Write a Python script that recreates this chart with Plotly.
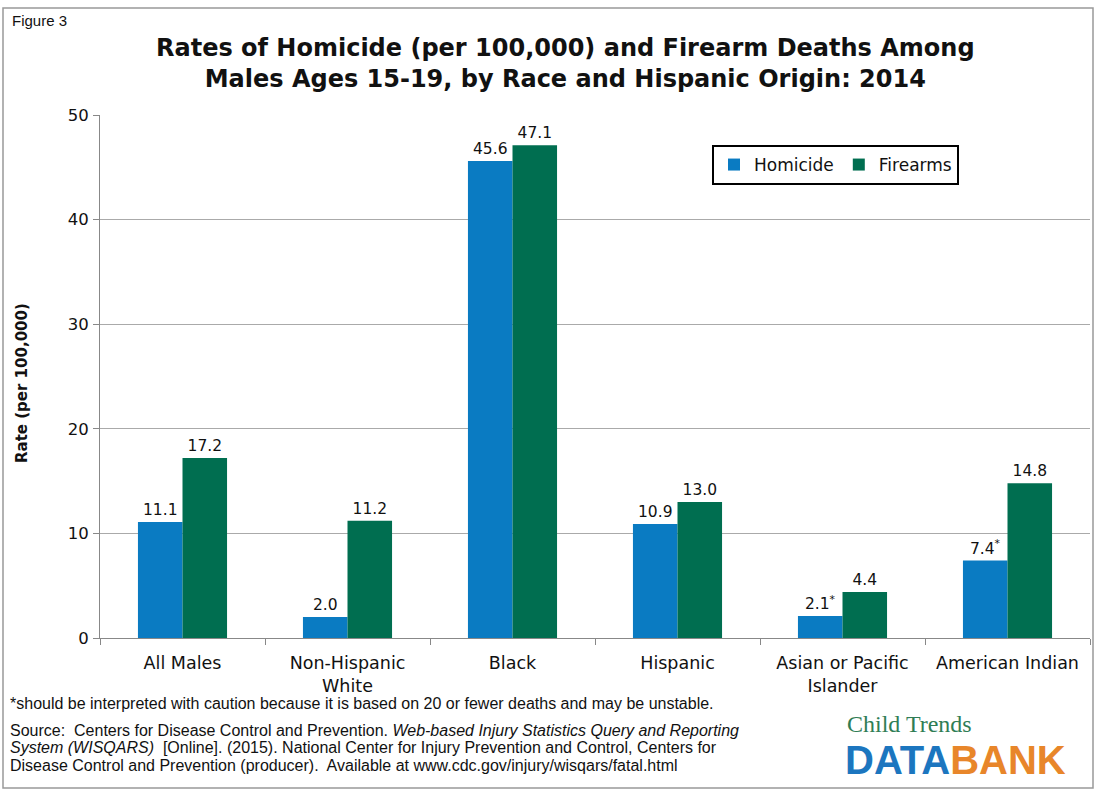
import plotly.graph_objects as go

categories = ["All Males", "Non-Hispanic<br>White", "Black", "Hispanic",
              "Asian or Pacific<br>Islander", "American Indian"]
homicide = [11.1, 2.0, 45.6, 10.9, 2.1, 7.4]
firearms = [17.2, 11.2, 47.1, 13.0, 4.4, 14.8]
homicide_labels = ["11.1", "2.0", "45.6", "10.9", "2.1<sup>*</sup>", "7.4<sup>*</sup>"]
firearms_labels = ["17.2", "11.2", "47.1", "13.0", "4.4", "14.8"]
y_ticks = [0, 10, 20, 30, 40, 50]

W, H = 1096, 791
L, R, T, B = 100, 6, 115, 153
pw, ph = W - L - R, H - T - B

def px(x):
    return (x - L) / pw

def py(y):
    return (H - B - y) / ph

lab_font = dict(family="DejaVu Sans, Verdana", size=15.5, color="#111")

fig = go.Figure()
fig.add_trace(go.Bar(name="Homicide", x=categories, y=homicide, text=homicide_labels,
                     textposition="outside", cliponaxis=False, textfont=lab_font,
                     marker=dict(color="#0A7BC2", line=dict(width=0))))
fig.add_trace(go.Bar(name="Firearms", x=categories, y=firearms, text=firearms_labels,
                     textposition="outside", cliponaxis=False, textfont=lab_font,
                     marker=dict(color="#006E50", line=dict(width=0))))

fig.update_layout(
    width=W, height=H,
    margin=dict(l=L, r=R, t=T, b=B),
    paper_bgcolor="white", plot_bgcolor="white",
    barmode="group", bargap=0.46, bargroupgap=0,
    font=dict(family="DejaVu Sans, Verdana", size=15, color="#111"),
    legend=dict(orientation="h", x=px(712), y=py(145), xanchor="left", yanchor="top",
                bordercolor="black", borderwidth=2, bgcolor="white",
                font=dict(size=17), traceorder="normal", itemwidth=30),
    xaxis=dict(showline=True, linecolor="#888", linewidth=1, ticks="outside",
               tickson="boundaries", ticklen=6, tickcolor="#888",
               tickfont=dict(size=17.5), showgrid=False, ticklabelstandoff=9),
    yaxis=dict(range=[0, 50], tickvals=y_ticks, showline=True, linecolor="#888",
               linewidth=1, ticks="outside", ticklen=6, tickcolor="#888",
               showgrid=True, gridcolor="#AAAAAA", gridwidth=1,
               tickfont=dict(size=16.5), zeroline=False, ticklabelstandoff=1),
    showlegend=True,
)

# outer border
fig.add_shape(type="rect", xref="paper", yref="paper",
              x0=px(3), x1=px(1093), y0=py(788), y1=py(8),
              line=dict(color="#999", width=1.5), fillcolor="rgba(0,0,0,0)", layer="below")

ann = []
ann.append(dict(text="Figure 3", x=px(10), y=py(20), xanchor="left", yanchor="middle",
                font=dict(family="Liberation Sans, Arial", size=15, color="#111")))
ann.append(dict(text="<b>Rates of Homicide (per 100,000) and Firearm Deaths Among<br>Males Ages 15-19, by Race and Hispanic Origin: 2014</b>",
                x=px(565), y=py(64), xanchor="center", yanchor="middle",
                font=dict(family="DejaVu Sans, Verdana", size=24, color="#111")))
ann.append(dict(text="<b>Rate (per 100,000)</b>", x=px(22), y=py(383), textangle=-90,
                xanchor="center", yanchor="middle",
                font=dict(family="DejaVu Sans, Verdana", size=15, color="#111")))
foot_font = dict(family="Liberation Sans, Arial", size=16, color="#111")
ann.append(dict(text="*should be interpreted with caution because it is based on 20 or fewer deaths and may be unstable.",
                x=px(8), y=py(703), xanchor="left", yanchor="middle", font=foot_font))
ann.append(dict(text="Source:  Centers for Disease Control and Prevention. <i>Web-based Injury Statistics Query and Reporting</i>",
                x=px(8), y=py(730), xanchor="left", yanchor="middle", font=foot_font))
ann.append(dict(text="<i>System (WISQARS)</i>  [Online]. (2015). National Center for Injury Prevention and Control, Centers for",
                x=px(8), y=py(747), xanchor="left", yanchor="middle", font=foot_font))
ann.append(dict(text="Disease Control and Prevention (producer).  Available at www.cdc.gov/injury/wisqars/fatal.html",
                x=px(8), y=py(765), xanchor="left", yanchor="middle", font=foot_font))
# logo
ann.append(dict(text="Child Trends", x=px(845), y=py(724), xanchor="left", yanchor="middle",
                font=dict(family="Liberation Serif, DejaVu Serif", size=24, color="#2F7D55")))
ann.append(dict(text="<b><span style='color:#1C76BF'>DATA</span><span style='color:#E8862A'>BANK</span></b>",
                x=px(843), y=py(760), xanchor="left", yanchor="middle",
                font=dict(family="Liberation Sans, Arial", size=40)))
for a in ann:
    a.update(xref="paper", yref="paper", showarrow=False)
fig.update_layout(annotations=ann)

fig.write_html("out.html", config={"displayModeBar": False},
               post_script="document.body.style.margin='0px';")
